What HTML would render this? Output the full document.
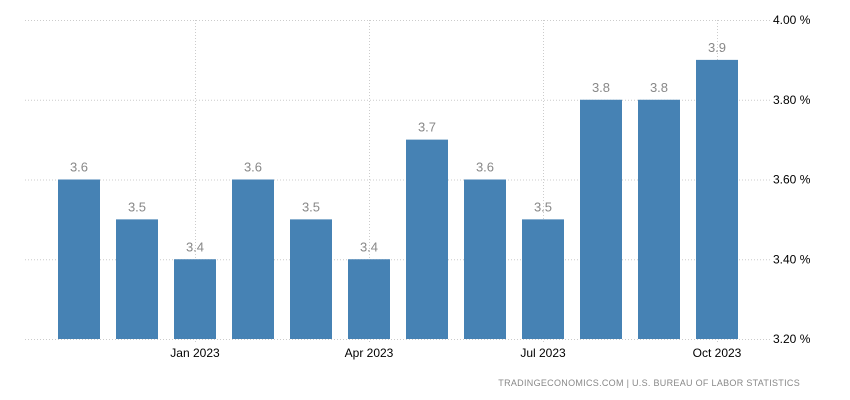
<!DOCTYPE html>
<html><head><meta charset="utf-8"><style>
body{margin:0;background:#fff;}
svg{display:block;font-family:"Liberation Sans",sans-serif;}
</style></head><body>
<svg id="chart" width="850" height="400"></svg>
<script>
const categories=["Nov 2022","Dec 2022","Jan 2023","Feb 2023","Mar 2023","Apr 2023","May 2023","Jun 2023","Jul 2023","Aug 2023","Sep 2023","Oct 2023"];
const values=[3.6,3.5,3.4,3.6,3.5,3.4,3.7,3.6,3.5,3.8,3.8,3.9];
const yTicks=[3.2,3.4,3.6,3.8,4.0];
const xTickLabels=["Jan 2023","Apr 2023","Jul 2023","Oct 2023"];
const xTickIdx=[2,5,8,11];
const NS="http://www.w3.org/2000/svg";
const svg=document.getElementById('chart');
const yMin=3.2,yMax=4.0,yTop=20,yBot=339;
const y=v=>yBot-(v-yMin)/(yMax-yMin)*(yBot-yTop);
const x0=58,pitch=58,bw=42;
const xc=i=>x0+i*pitch+bw/2;
function mk(t,a){const e=document.createElementNS(NS,t);for(const k in a)e.setAttribute(k,a[k]);svg.appendChild(e);return e;}
yTicks.forEach(v=>{
  const l=mk('line',{x1:25,x2:770,y1:y(v)+0.5,y2:y(v)+0.5,stroke:'#ccc','stroke-dasharray':'1,2'});
  
  
  const t=mk('text',{x:773,y:y(v)+4,'font-size':12,fill:'#000'});
  t.textContent=v.toFixed(2)+' %';
  
  
});
xTickIdx.forEach((idx,k)=>{
  const l=mk('line',{x1:xc(idx)+0.5,x2:xc(idx)+0.5,y1:yTop,y2:yBot+5,stroke:'#ccc','stroke-dasharray':'1,2'});
  
  
  const t=mk('text',{x:xc(idx),y:357,'font-size':12,fill:'#000','text-anchor':'middle'});
  t.textContent=xTickLabels[k];
  
  
});
values.forEach((v,i)=>{
  const r=mk('rect',{x:x0+i*pitch,y:y(v),width:bw,height:yBot-y(v),fill:'#4682b4'});
  
  
  const t=mk('text',{x:xc(i),y:y(v)-8,'font-size':13,fill:'#888','text-anchor':'middle'});
  t.textContent=v.toFixed(1);
  
  
});
const s=mk('text',{x:800,y:386,'font-size':9,fill:'#888','text-anchor':'end','letter-spacing':'0.3'});
s.textContent='TRADINGECONOMICS.COM  |  U.S. BUREAU OF LABOR STATISTICS';


</script>
</body></html>
